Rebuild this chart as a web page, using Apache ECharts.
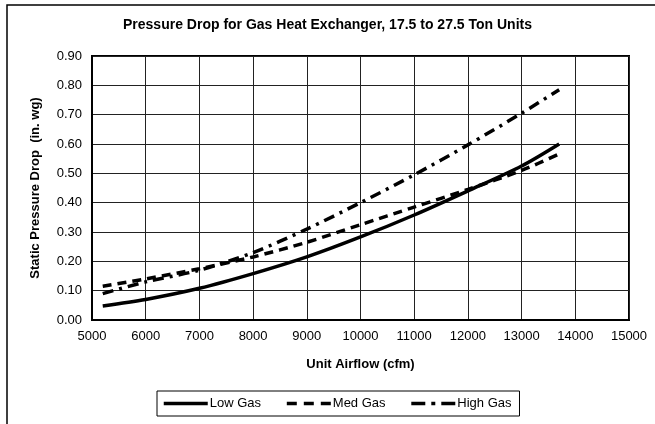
<!DOCTYPE html>
<html>
<head>
<meta charset="utf-8">
<script src="https://cdn.jsdelivr.net/npm/echarts@6/dist/echarts.min.js"></script>
<style>
  html, body { margin: 0; padding: 0; background: #fff; }
  #chart { width: 655px; height: 424px; }
</style>
</head>
<body>
<div id="chart"></div>
<script>
// Airflow sample points (cfm)
const airflow = [5200, 6000, 7000, 8000, 9000, 10000, 11000, 12000, 13000, 13700];
// Static pressure drop (in. wg) per heat exchanger size
const lowGas  = [0.048, 0.070, 0.108, 0.158, 0.215, 0.283, 0.358, 0.440, 0.525, 0.600];
const medGas  = [0.115, 0.140, 0.175, 0.215, 0.265, 0.325, 0.385, 0.445, 0.510, 0.566];
const highGas = [0.090, 0.130, 0.170, 0.230, 0.310, 0.400, 0.495, 0.597, 0.705, 0.785];
const seriesNames = ['Low Gas', 'Med Gas', 'High Gas'];

const pairs = vals => airflow.map((x, i) => [x, vals[i]]);
const font = 'Liberation Sans, Arial, sans-serif';

const chart = echarts.init(document.getElementById('chart'), null, { renderer: 'canvas' });

function lineSeries(name, vals, dash) {
  return {
    name: name,
    type: 'line',
    data: pairs(vals),
    smooth: 0.3,
    symbol: 'none',
    lineStyle: { color: '#000', width: 3.5, type: dash, cap: 'butt' },
    itemStyle: { color: '#000' },
    emphasis: { disabled: true }
  };
}

chart.setOption({
  animation: false,
  backgroundColor: '#fff',
  title: {
    text: 'Pressure Drop for Gas Heat Exchanger, 17.5 to 27.5 Ton Units',
    left: 'center',
    top: 13,
    textStyle: { fontFamily: font, fontSize: 14, fontWeight: 'bold', color: '#000' }
  },
  graphic: [{
    type: 'rect',
    shape: { x: 7, y: 5, width: 700, height: 500 },
    style: { fill: 'none', stroke: '#000', lineWidth: 1.5 },
    silent: true
  }],
  grid: {
    left: 92, right: 26, top: 56, bottom: 104,
    show: true, borderColor: '#000', borderWidth: 2, backgroundColor: 'transparent'
  },
  xAxis: {
    type: 'value',
    min: 5000, max: 15000, interval: 1000,
    name: 'Unit Airflow (cfm)',
    nameLocation: 'middle',
    nameGap: 38,
    nameTextStyle: { fontFamily: font, fontSize: 13, fontWeight: 'bold', color: '#000' },
    axisLine: { show: true, lineStyle: { color: '#000', width: 2 } },
    axisTick: { show: false },
    axisLabel: { fontFamily: font, fontSize: 13, color: '#000', margin: 10,
                 formatter: v => String(v) },
    splitLine: { show: true, lineStyle: { color: '#222', width: 1 } }
  },
  yAxis: {
    type: 'value',
    min: 0, max: 0.9, interval: 0.1,
    name: 'Static Pressure Drop  (in. wg)',
    nameLocation: 'middle',
    nameGap: 50,
    nameTextStyle: { fontFamily: font, fontSize: 13, fontWeight: 'bold', color: '#000' },
    axisLine: { show: true, lineStyle: { color: '#000', width: 2 } },
    axisTick: { show: false },
    axisLabel: { fontFamily: font, fontSize: 13, color: '#000', margin: 10,
                 formatter: v => v.toFixed(2) },
    splitLine: { show: true, lineStyle: { color: '#222', width: 1 } }
  },
  legend: {
    data: [
      { name: seriesNames[0] },
      { name: seriesNames[1], lineStyle: { type: [10, 7] } },
      { name: seriesNames[2], lineStyle: { type: [14, 6, 4, 6] } }
    ],
    left: 157, top: 391,
    orient: 'horizontal',
    itemWidth: 44, itemHeight: 14, itemGap: 24,
    padding: [6, 8, 6, 5],
    borderColor: '#000', borderWidth: 1,
    itemStyle: { color: 'transparent', borderWidth: 0 },
    lineStyle: { width: 3.5 },
    textStyle: { fontFamily: font, fontSize: 13, color: '#000', padding: [0, 0, 0, -3] },
    selectedMode: false
  },
  series: [
    lineSeries(seriesNames[0], lowGas, 'solid'),
    lineSeries(seriesNames[1], medGas, [9, 6]),
    lineSeries(seriesNames[2], highGas, [11, 6, 3, 6])
  ]
});
</script>
</body>
</html>
